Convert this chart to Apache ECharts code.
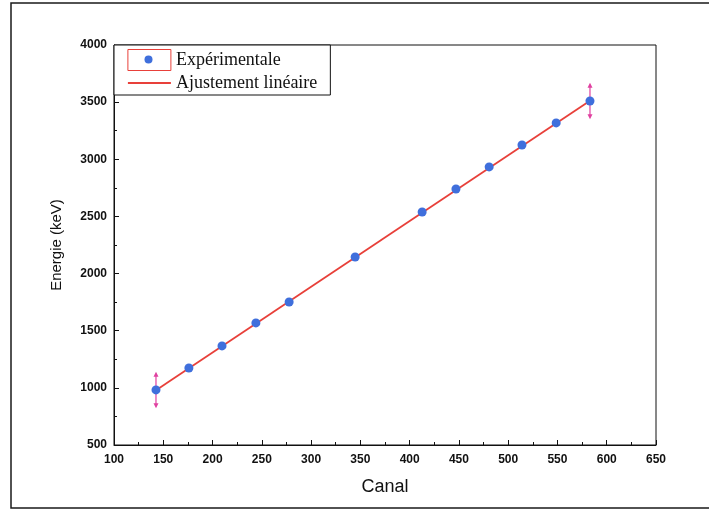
<!DOCTYPE html>
<html>
<head>
<meta charset="utf-8">
<script src="https://cdn.jsdelivr.net/npm/echarts@6/dist/echarts.min.js"></script>
<style>html,body{margin:0;padding:0;background:#fff;}#c{width:709px;height:511px;}</style>
</head>
<body>
<div id="c"></div>
<script>
// Data
var canal   = [142.6, 176, 209.6, 244, 277.7, 344.7, 412.7, 447, 480.7, 514, 548.7, 583];
var energie = [982, 1174, 1367, 1568, 1751, 2145, 2539, 2740, 2933, 3125, 3318, 3510];
var fitCanal   = [142.6, 583];
var fitEnergie = [980, 3512];
var errCanal   = [142.6, 583];
var errEnergie = [982, 3510];
var errSize    = [160, 160];
var xTicks = {min: 100, max: 650, interval: 50};
var yTicks = {min: 500, max: 4000, interval: 500};

var scatterData = canal.map(function (x, i) { return [x, energie[i]]; });
var fitData = fitCanal.map(function (x, i) { return [x, fitEnergie[i]]; });
var errData = errCanal.map(function (x, i) { return [x, errEnergie[i], errSize[i]]; });

var chart = echarts.init(document.getElementById('c'), null, {renderer: 'canvas'});
var labelFont = {fontFamily: 'Liberation Sans, Arial', fontSize: 12, fontWeight: 'bold', color: '#111',
  formatter: function (v) { return String(v); }};

chart.setOption({
  animation: false,
  backgroundColor: '#fff',
  grid: {left: 114, right: 53, top: 45, bottom: 66, show: true, borderColor: '#111', borderWidth: 1, backgroundColor: 'transparent'},
  xAxis: {
    type: 'value', min: xTicks.min, max: xTicks.max, interval: xTicks.interval,
    name: 'Canal', nameLocation: 'middle', nameGap: 33,
    nameTextStyle: {fontFamily: 'Liberation Sans, Arial', fontSize: 18, color: '#111'},
    axisLine: {show: true, onZero: false, lineStyle: {color: '#111', width: 1}},
    axisTick: {show: true, inside: true, length: 5, lineStyle: {color: '#111'}},
    minorTick: {show: true, splitNumber: 2, length: 3, lineStyle: {color: '#111'}},
    splitLine: {show: false},
    axisLabel: Object.assign({margin: 9}, labelFont)
  },
  yAxis: {
    type: 'value', min: yTicks.min, max: yTicks.max, interval: yTicks.interval,
    name: 'Energie (keV)', nameLocation: 'middle', nameGap: 50,
    nameTextStyle: {fontFamily: 'Liberation Sans, Arial', fontSize: 15, color: '#111'},
    axisLine: {show: true, onZero: false, lineStyle: {color: '#111', width: 1}},
    axisTick: {show: true, inside: true, length: 5, lineStyle: {color: '#111'}},
    minorTick: {show: true, splitNumber: 2, length: 3, lineStyle: {color: '#111'}},
    splitLine: {show: false},
    axisLabel: Object.assign({margin: 7}, labelFont)
  },
  legend: {
    orient: 'vertical', left: 114, top: 45,
    borderColor: '#111', borderWidth: 1, backgroundColor: '#fff',
    padding: [4, 13, 3, 13], itemGap: 3, itemWidth: 43, itemHeight: 21,
    textStyle: {fontFamily: 'Liberation Serif, Times New Roman', fontSize: 18, color: '#111'},
    data: [
      {name: 'Expérimentale', icon: 'rect', itemStyle: {color: '#fff', borderColor: '#e8403a', borderWidth: 1}},
      {name: 'Ajustement linéaire', itemStyle: {opacity: 0}, lineStyle: {color: '#e8403a', width: 1.8, opacity: 1}}
    ]
  },
  graphic: [
    {type: 'rect', z: 100, silent: true, shape: {x: 11, y: 3, width: 720, height: 505},
     style: {fill: 'none', stroke: '#1a1a1a', lineWidth: 1.5}},
    {type: 'circle', z: 100, silent: true, shape: {cx: 148.5, cy: 59.5, r: 4},
     style: {fill: '#3f6fdc'}}
  ],
  series: [
    {
      name: 'Ajustement linéaire', type: 'line', data: fitData, symbol: 'none',
      lineStyle: {color: '#e8403a', width: 1.8}, itemStyle: {color: '#e8403a'}, z: 2
    },
    {
      name: 'errbar', type: 'custom', data: errData, z: 3,
      renderItem: function (params, api) {
        var x = api.value(0), y = api.value(1), e = api.value(2);
        var top = api.coord([x, y + e]);
        var bot = api.coord([x, y - e]);
        var c = '#e040a0', ah = 5, aw = 2.5;
        return {
          type: 'group',
          children: [
            {type: 'line', shape: {x1: top[0], y1: top[1] + 2, x2: bot[0], y2: bot[1] - 2}, style: {stroke: c, lineWidth: 1.2}},
            {type: 'polygon', shape: {points: [[top[0], top[1]], [top[0] - aw, top[1] + ah], [top[0] + aw, top[1] + ah]]}, style: {fill: c}},
            {type: 'polygon', shape: {points: [[bot[0], bot[1]], [bot[0] - aw, bot[1] - ah], [bot[0] + aw, bot[1] - ah]]}, style: {fill: c}}
          ]
        };
      }
    },
    {
      name: 'Expérimentale', type: 'scatter', data: scatterData, symbol: 'circle', symbolSize: 9,
      itemStyle: {color: '#3f6fdc', opacity: 1}, z: 4
    }
  ]
});
</script>
</body>
</html>
